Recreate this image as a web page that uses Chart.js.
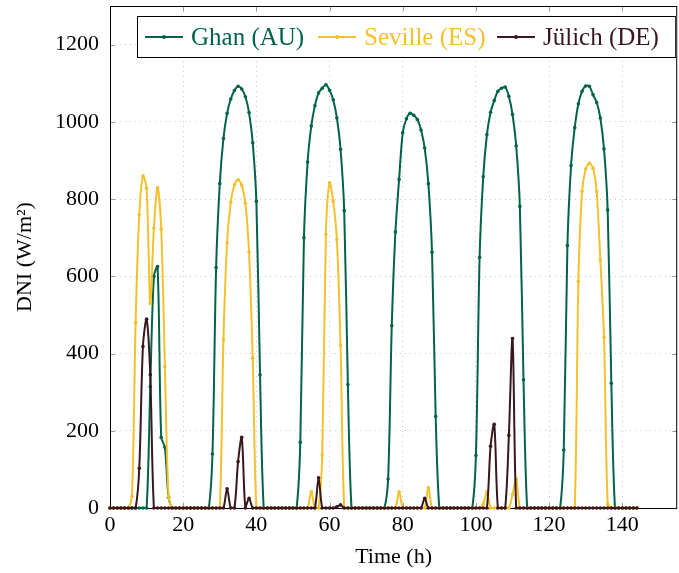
<!DOCTYPE html>
<html>
<head>
<meta charset="utf-8">
<script src="https://cdn.jsdelivr.net/npm/chart.js@4.4.1/dist/chart.umd.min.js"></script>
<style>
  html,body{margin:0;padding:0;background:#fff}
  #wrap{width:679px;height:573px}
</style>
</head>
<body>
<div id="wrap"><canvas id="c" width="679" height="573"></canvas></div>
<script>
/* DATA: hourly DNI in W/m2, hour 0..144 */
const hours = Array.from({length: 145}, (_, i) => i);

const ghan = [
  0,0,0,0,0,0,0,0,0,0,0,314,
  600,625,183,157,28,0,0,0,0,0,0,0,
  0,0,0,0,140,623,840,957,1022,1059,1081,1092,
  1085,1065,1024,946,794,345,0,0,0,0,0,0,
  0,0,0,0,170,700,896,989,1042,1075,1087,1096,
  1082,1057,1010,929,770,320,0,0,0,0,0,0,
  0,0,0,0,75,472,715,851,972,1008,1022,1017,
  1006,979,932,840,662,237,0,0,0,0,0,0,
  0,0,0,0,136,649,858,967,1025,1055,1079,1087,
  1090,1066,1019,938,781,332,0,0,0,0,0,0,
  0,0,0,0,150,680,887,985,1047,1079,1093,1092,
  1070,1050,1010,930,772,323,0,0,0,0,0,0,
  0
];

const seville = [
  0,0,0,0,0,0,30,480,760,860,828,530,
  725,830,722,366,30,0,0,0,0,0,0,0,
  0,0,0,0,0,0,0,436,687,792,837,850,
  836,789,662,388,0,0,0,0,0,0,0,0,
  0,0,0,0,0,0,0,42,0,0,137,708,
  842,794,695,421,0,0,0,0,0,0,0,0,
  0,0,0,0,0,0,0,42,0,0,0,0,
  0,0,0,53,0,0,0,0,0,0,0,0,
  0,0,0,0,0,0,10,42,0,0,0,0,
  0,0,35,75,0,0,0,0,0,0,0,0,
  0,0,0,0,0,0,0,0,587,820,878,893,
  880,819,642,442,10,0,0,0,0,0,0,0,
  0
];

const julich = [
  0,0,0,0,0,0,0,0,103,418,489,345,
  0,0,0,0,0,0,0,0,0,0,0,0,
  0,0,0,0,0,0,0,0,50,0,0,120,
  183,0,25,0,0,0,0,0,0,0,0,0,
  0,0,0,0,0,0,0,0,0,78,0,0,
  0,0,3,8,0,0,0,0,0,0,0,0,
  0,0,0,0,0,0,0,0,0,0,0,0,
  0,0,25,0,0,0,0,0,0,0,0,0,
  0,0,0,0,0,0,0,0,160,217,0,0,
  0,188,439,0,0,0,0,0,0,0,0,0,
  0,0,0,0,0,0,0,0,0,0,0,0,
  0,0,0,0,0,0,0,0,0,0,0,0,
  0
];

const seriesNames = ['Ghan (AU)', 'Seville (ES)', 'Jülich (DE)'];
const seriesColors = ['#00634a', '#f4c02e', '#3a171c'];
const xTicks = [0, 20, 40, 60, 80, 100, 120, 140];
const yTicks = [0, 200, 400, 600, 800, 1000, 1200];

const SERIF = '"Liberation Serif", "Times New Roman", serif';

const toPts = (vals) => vals.map((v, i) => ({x: hours[i], y: v}));

/* frame + inner tick marks, drawn under the lines */
const frame = {
  id: 'frame',
  beforeDatasetsDraw(chart){
    const {ctx, chartArea: a, scales: {x, y}} = chart;
    ctx.save();
    ctx.strokeStyle = '#9a9a9a';
    ctx.lineWidth = 1;
    ctx.beginPath();
    xTicks.forEach(t => {
      const px = Math.round(x.getPixelForValue(t)) + .5;
      ctx.moveTo(px, a.bottom); ctx.lineTo(px, a.bottom - 5);
      ctx.moveTo(px, a.top); ctx.lineTo(px, a.top + 5);
    });
    yTicks.forEach(t => {
      const py = Math.round(y.getPixelForValue(t)) + .5;
      ctx.moveTo(a.left, py); ctx.lineTo(a.left + 5, py);
      ctx.moveTo(a.right, py); ctx.lineTo(a.right - 5, py);
    });
    ctx.stroke();
    ctx.strokeStyle = '#000';
    ctx.strokeRect(a.left + .5, a.top + .5, a.right - a.left - 1, a.bottom - a.top);
    ctx.restore();
  }
};

/* legend box in the top right corner of the plot */
const legendBox = {
  id: 'legendBox',
  afterDraw(chart){
    const {ctx, chartArea: a} = chart;
    const left = a.left + 27, top = a.top + 10, right = a.right - 1, h = 41;
    ctx.save();
    ctx.fillStyle = '#fff';
    ctx.fillRect(left, top, right - left, h);
    ctx.strokeStyle = '#000';
    ctx.lineWidth = 1;
    ctx.strokeRect(left + .5, top + .5, right - left - 1, h);
    const cy = top + h / 2 + .5;
    const starts = [8, 181, 360];
    ctx.font = '25px ' + SERIF;
    ctx.textBaseline = 'middle';
    seriesNames.forEach((name, i) => {
      const x0 = left + starts[i];
      ctx.strokeStyle = seriesColors[i];
      ctx.fillStyle = seriesColors[i];
      ctx.lineWidth = 2;
      ctx.beginPath(); ctx.moveTo(x0, cy); ctx.lineTo(x0 + 38, cy); ctx.stroke();
      ctx.beginPath(); ctx.arc(x0 + 19, cy, 2, 0, Math.PI * 2); ctx.fill();
      ctx.fillText(name, x0 + 46, cy + 1);
    });
    ctx.restore();
  }
};

const mkSet = (i, vals, order) => ({
  label: seriesNames[i],
  data: toPts(vals),
  borderColor: seriesColors[i],
  backgroundColor: seriesColors[i],
  borderWidth: 2,
  pointRadius: 1.8,
  pointHoverRadius: 1.8,
  pointBorderWidth: 0,
  tension: 0.3,
  clip: false,
  order
});

new Chart(document.getElementById('c'), {
  type: 'line',
  data: {
    datasets: [
      mkSet(0, ghan, 2),
      mkSet(1, seville, 1),
      mkSet(2, julich, 0)
    ]
  },
  options: {
    responsive: false,
    animation: false,
    events: [],
    layout: {padding: {top: 6, right: 1, left: 0, bottom: 0}},
    plugins: {legend: {display: false}, tooltip: {enabled: false}},
    scales: {
      x: {
        type: 'linear',
        min: 0, max: 155,
        afterFit: (s) => { s.height = 65; s.paddingLeft = 0; s.paddingRight = 0; },
        afterBuildTicks: (s) => { s.ticks = xTicks.map(v => ({value: v})); },
        ticks: {
          padding: 4,
          color: '#000',
          font: {family: SERIF, size: 22},
          maxRotation: 0,
          callback: (v) => String(v)
        },
        grid: {color: '#c8c8c8', lineWidth: 1, drawTicks: false},
        border: {display: false, dash: [1, 4]},
        title: {
          display: true,
          text: 'Time (h)',
          color: '#000',
          font: {family: SERIF, size: 22},
          padding: {top: 0, bottom: 3}
        }
      },
      y: {
        min: 0, max: 1300,
        afterFit: (s) => { s.width = 110; s.paddingTop = 0; s.paddingBottom = 0; },
        afterBuildTicks: (s) => { s.ticks = yTicks.map(v => ({value: v})); },
        ticks: {
          padding: 11,
          color: '#000',
          font: {family: SERIF, size: 22},
          callback: (v) => String(v)
        },
        grid: {color: '#c8c8c8', lineWidth: 1, drawTicks: false},
        border: {display: false, dash: [1, 4]},
        title: {
          display: true,
          text: 'DNI (W/m²)',
          color: '#000',
          font: {family: SERIF, size: 22},
          padding: {top: 12, bottom: 0}
        }
      }
    }
  },
  plugins: [frame, legendBox]
});
</script>
</body>
</html>
